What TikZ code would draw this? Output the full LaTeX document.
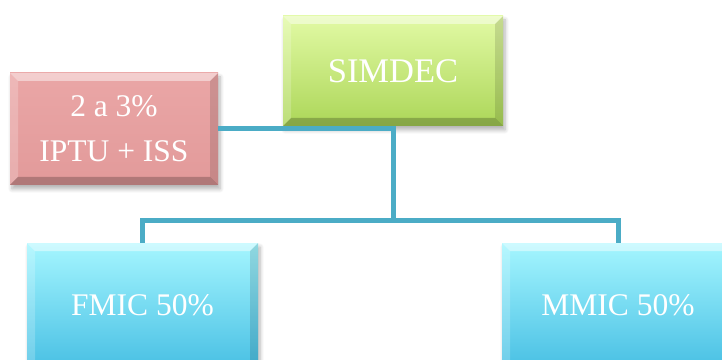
\documentclass[tikz,border=0pt]{standalone}
\usepackage{fontspec}
\setmainfont{Liberation Serif}
\usetikzlibrary{shadows.blur}

\definecolor{linkblue}{RGB}{75,172,198}
\definecolor{greentop}{RGB}{226,250,165}
\definecolor{greenbot}{RGB}{172,214,88}
\definecolor{redtop}{RGB}{234,166,166}
\definecolor{redbot}{RGB}{226,154,154}
\definecolor{bluetop}{RGB}{165,246,255}
\definecolor{bluebot}{RGB}{66,188,226}

\tikzset{
  bevel/.style={
    path picture={
      \def\bb{path picture bounding box}
      % lit top edge
      \fill[white,opacity=0.45] (\bb.north west) -- (\bb.north east)
        -- ([xshift=-8pt,yshift=-8pt]\bb.north east)
        -- ([xshift=8pt,yshift=-8pt]\bb.north west) -- cycle;
      % lit left edge
      \fill[white,opacity=0.2] (\bb.north west) -- ([xshift=8pt,yshift=-8pt]\bb.north west)
        -- ([xshift=8pt,yshift=8pt]\bb.south west) -- (\bb.south west) -- cycle;
      % shaded right edge
      \fill[black,opacity=0.12] (\bb.north east) -- ([xshift=-8pt,yshift=-8pt]\bb.north east)
        -- ([xshift=-8pt,yshift=8pt]\bb.south east) -- (\bb.south east) -- cycle;
      % shaded bottom edge
      \fill[black,opacity=0.22] (\bb.south west) -- (\bb.south east)
        -- ([xshift=-8pt,yshift=8pt]\bb.south east)
        -- ([xshift=8pt,yshift=8pt]\bb.south west) -- cycle;
    }},
  box/.style={
    rectangle, inner sep=0pt, bevel, text=white, align=center,
    font=\fontsize{31.5}{45}\selectfont,
    blur shadow={shadow xshift=2pt, shadow yshift=-4pt, shadow blur steps=6,
                 shadow blur radius=4pt, shadow opacity=30}},
  greenbox/.style={box, top color=greentop, bottom color=greenbot,
                   font=\fontsize{34.5}{45}\selectfont},
  redbox/.style={box, top color=redtop, bottom color=redbot},
  bluebox/.style={box, top color=bluetop, bottom color=bluebot},
  link/.style={draw=linkblue, line width=5pt}
}

\begin{document}
\begin{tikzpicture}[x=1pt,y=1pt]
  \useasboundingbox (0,0) rectangle (722,359);
  \clip (0,0) rectangle (722,359);

  % organisation chart
  \node[greenbox, minimum width=220pt, minimum height=110pt] (simdec) at (393,288) {SIMDEC};
  \node[redbox, minimum width=208pt, minimum height=112pt] (imposto) at (114,230) {2 a 3\%\\IPTU + ISS};
  % the lower boxes run past the bottom edge of the page
  \node[bluebox, minimum width=231pt, minimum height=134pt] (fmic) at (142.5,49)
    {\raisebox{9pt}{FMIC 50\%}};
  \node[bluebox, minimum width=232pt, minimum height=134pt] (mmic) at (618,49)
    {\raisebox{9pt}{MMIC 50\%}};

  \coordinate (bus) at (393,139);

  \draw[link] (simdec.south) -- (bus);
  \draw[link] (fmic.north) |- (bus) -| (mmic.north);
  \draw[link] (imposto.east) -- (imposto.east -| simdec.south);
\end{tikzpicture}
\end{document}
